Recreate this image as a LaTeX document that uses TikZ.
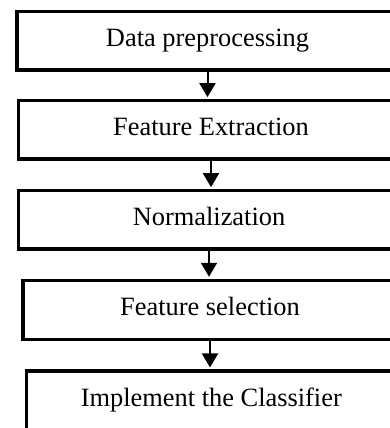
\documentclass[tikz,border=0pt]{standalone}
\usepackage{fontspec}
\setmainfont{Liberation Serif}
\usetikzlibrary{arrows.meta}

\begin{document}
\begin{tikzpicture}[
  x=0.5pt, y=-0.5pt,
  >={Triangle[width=8pt,length=7pt]},
  font=\fontsize{13.2}{15}\selectfont,
  stage/.style={draw, rectangle, line width=1.75pt, inner sep=0pt,
    minimum height=29.2pt, text height=0.8em, text depth=0.217em},
  flow/.style={->, line width=1pt, shorten >=0.9pt}
]
  \useasboundingbox (0,0) rectangle (390,428);
  \clip (0,0) rectangle (390,428);

  % Stages of the pipeline (the boxes run past the right edge)
  \node[stage, minimum width=190.5pt] (prep) at (207.5,40.6) {Data preprocessing};
  \node[stage, minimum width=192.3pt] (extract) at (211,129.9) {Feature Extraction};
  \node[stage, minimum width=190.3pt] (norm) at (209,219.9) {Normalization};
  \node[stage, minimum width=187pt, minimum height=29.5pt] (select) at (210,309.8) {Feature selection};
  \node[stage, minimum width=185pt] (classify) at (211.3,400.2) {Implement the Classifier};

  % Arrows between stages
  \draw[flow] (prep.south) -- (prep.south |- extract.north);
  \draw[flow] (extract.south) -- (extract.south |- norm.north);
  \draw[flow] (norm.south) -- (norm.south |- select.north);
  \draw[flow] (select.south) -- (select.south |- classify.north);
\end{tikzpicture}
\end{document}
